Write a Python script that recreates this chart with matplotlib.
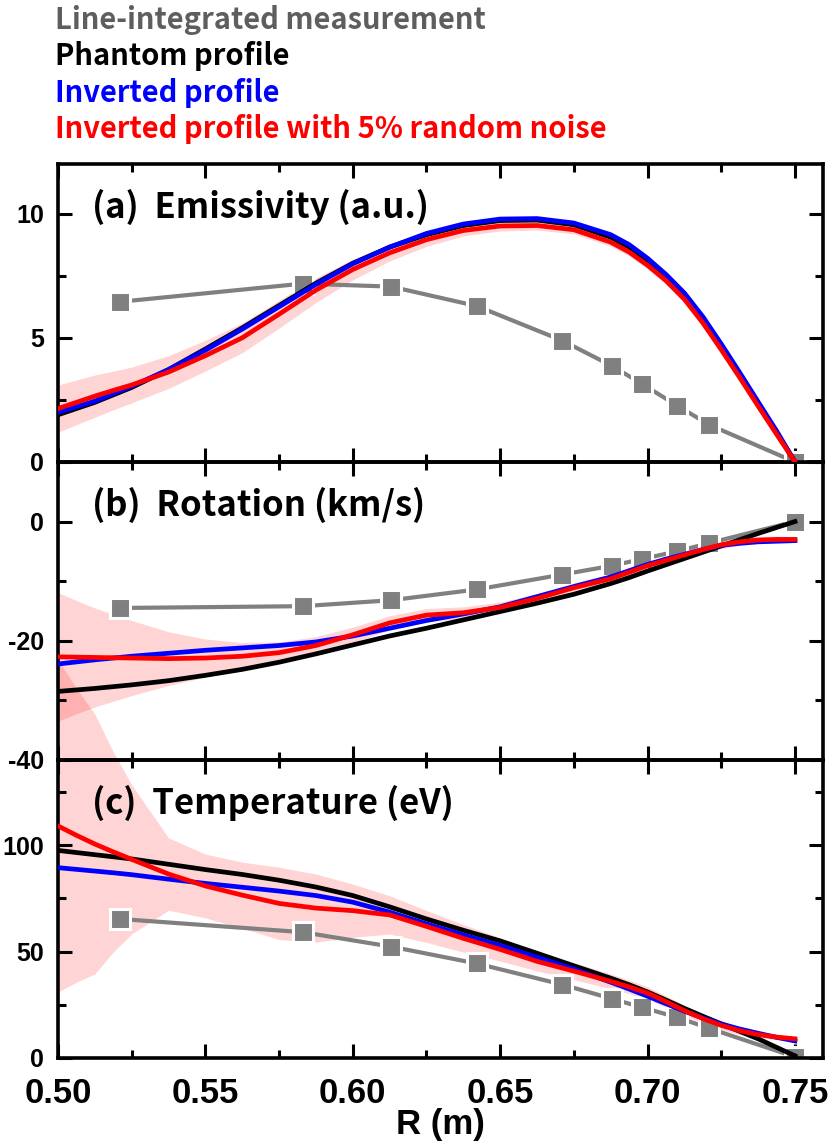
import numpy as np
import matplotlib.pyplot as plt
from matplotlib.ticker import MultipleLocator

plt.rcParams['font.family'] = ['Liberation Sans', 'DejaVu Sans']
plt.rcParams['font.weight'] = 'bold'
plt.rcParams['axes.unicode_minus'] = False

# radial grid of the reconstructed profiles (m)
r = [0.5000, 0.50625, 0.5125, 0.51875, 0.5250, 0.5375, 0.5500, 0.5625, 0.5750, 0.5875,
     0.6000, 0.6125, 0.6250, 0.6375, 0.6500, 0.6625, 0.6750, 0.6875, 0.69375, 0.7000,
     0.70625, 0.7125, 0.71875, 0.7250, 0.73125, 0.7375, 0.74375, 0.7500]
# chord positions of the line-integrated measurement
r_meas = [0.521, 0.583, 0.613, 0.642, 0.671, 0.688, 0.698, 0.710, 0.721, 0.750]

# (a) emissivity
emis_meas = [6.45, 7.18, 7.06, 6.28, 4.89, 3.86, 3.15, 2.27, 1.49, 0.0]
emis_phantom = [1.9, 2.15, 2.4, 2.7, 3.0, 3.72, 4.55, 5.4, 6.3, 7.2,
                8.0, 8.65, 9.15, 9.52, 9.72, 9.74, 9.55, 9.05, 8.65, 8.1,
                7.45, 6.7, 5.75, 4.65, 3.5, 2.35, 1.2, 0.0]
emis_inv = [2.0, 2.22, 2.45, 2.75, 3.05, 3.72, 4.5, 5.35, 6.25, 7.15,
            7.98, 8.65, 9.2, 9.58, 9.78, 9.8, 9.62, 9.15, 8.75, 8.2,
            7.55, 6.8, 5.85, 4.75, 3.6, 2.42, 1.25, 0.0]
emis_noise = [2.15, 2.4, 2.65, 2.88, 3.1, 3.62, 4.28, 5.0, 5.95, 6.92,
              7.75, 8.42, 8.95, 9.32, 9.5, 9.52, 9.35, 8.85, 8.45, 7.92,
              7.3, 6.55, 5.6, 4.52, 3.4, 2.25, 1.12, 0.0]
emis_err = [0.95, 0.9, 0.85, 0.78, 0.72, 0.66, 0.62, 0.6, 0.56, 0.5,
            0.42, 0.33, 0.27, 0.22, 0.2, 0.18, 0.17, 0.16, 0.155, 0.15,
            0.145, 0.14, 0.13, 0.12, 0.11, 0.1, 0.08, 0.05]

# (b) rotation
rot_meas = [-14.5, -14.2, -13.2, -11.4, -8.9, -7.4, -6.3, -5.0, -3.6, 0.0]
rot_phantom = [-28.5, -28.25, -28.0, -27.7, -27.4, -26.7, -25.8, -24.8, -23.6, -22.2,
               -20.7, -19.2, -17.9, -16.5, -15.1, -13.7, -12.2, -10.4, -9.4, -8.3,
               -7.25, -6.2, -5.15, -4.1, -3.05, -2.0, -1.0, 0.0]
rot_inv = [-23.9, -23.55, -23.2, -22.9, -22.6, -22.1, -21.6, -21.2, -20.8, -20.2,
           -19.2, -17.9, -16.6, -15.5, -14.3, -12.6, -10.9, -9.3, -8.25, -7.2,
           -6.3, -5.5, -4.7, -4.0, -3.65, -3.4, -3.3, -3.2]
rot_noise = [-22.7, -22.75, -22.8, -22.85, -22.9, -23.0, -22.9, -22.6, -22.0, -20.8,
             -19.0, -17.0, -15.7, -15.3, -14.4, -12.9, -11.1, -9.6, -8.5, -7.4,
             -6.5, -5.6, -4.7, -3.9, -3.4, -3.1, -3.0, -3.0]
rot_err = [10.8, 9.5, 8.3, 7.3, 6.3, 4.5, 3.2, 2.3, 1.8, 1.5,
           1.3, 1.2, 1.1, 1.0, 0.9, 0.8, 0.8, 0.8, 0.75, 0.7,
           0.7, 0.7, 0.65, 0.6, 0.6, 0.6, 0.55, 0.5]

# (c) temperature
temp_meas = [65.3, 59.1, 52.3, 44.4, 34.5, 27.8, 23.8, 19.1, 13.9, 0.5]
temp_phantom = [97.5, 96.5, 95.5, 94.5, 93.5, 91.0, 88.5, 86.2, 83.5, 80.3,
                76.3, 71.0, 65.3, 60.0, 55.0, 49.2, 43.3, 37.5, 34.4, 31.0,
                27.2, 23.3, 19.6, 16.0, 12.5, 9.0, 5.0, 1.0]
temp_inv = [89.4, 88.6, 87.8, 87.0, 86.1, 84.0, 82.0, 80.2, 78.4, 76.3,
            73.2, 68.5, 63.0, 57.8, 52.8, 47.3, 41.8, 35.6, 32.4, 29.0,
            25.5, 22.0, 18.8, 16.0, 13.6, 11.6, 9.7, 8.0]
temp_noise = [109.0, 104.6, 100.5, 96.8, 93.3, 86.4, 80.8, 76.5, 72.6, 70.4,
              69.2, 67.2, 61.8, 56.2, 51.0, 45.4, 40.8, 36.0, 33.4, 30.5,
              26.5, 22.2, 18.5, 15.3, 12.8, 11.0, 9.8, 9.0]
temp_err = [78, 69, 61, 47, 35, 17, 15, 15.5, 17, 16,
            12.5, 9, 7.5, 6.5, 5.5, 4.5, 4, 3.5, 3.2, 3,
            2.7, 2.5, 2.2, 2, 1.8, 1.5, 1.2, 1]

fig = plt.figure(figsize=(8.36, 11.44), dpi=100)
left, width = 0.0694, 0.915
ax_c = fig.add_axes([left, 0.0752, width, 0.2605])
ax_b = fig.add_axes([left, 0.3357, width, 0.2605])
ax_a = fig.add_axes([left, 0.5962, width, 0.2605])
ax_c.set_zorder(1)
ax_b.set_zorder(2)
ax_a.set_zorder(3)

panels = [
    (ax_a, emis_meas, emis_phantom, emis_inv, emis_noise, emis_err, (0, 12), 5, 2.5, '(a)  Emissivity (a.u.)'),
    (ax_b, rot_meas, rot_phantom, rot_inv, rot_noise, rot_err, (-40, 10), 20, 10, '(b)  Rotation (km/s)'),
    (ax_c, temp_meas, temp_phantom, temp_inv, temp_noise, temp_err, (0, 140), 50, 25, '(c)  Temperature (eV)'),
]

for ax, meas, phantom, inv, noise, err, ylim, major, minor, title in panels:
    ax.set_facecolor('none')
    noise_a = np.array(noise)
    err_a = np.array(err)
    # the temperature band spills over the top of its frame in the original
    ax.fill_between(r, noise_a - err_a, noise_a + err_a, color='red', alpha=0.17,
                    lw=0, zorder=1, clip_on=(ax is not ax_c))
    ax.plot(r_meas, meas, '-', color='#808080', lw=3, zorder=2)
    ax.plot(r_meas, meas, 's', color='#808080', ms=14, mec='white', mew=2.2, zorder=2.5)
    ax.plot(r, phantom, color='black', lw=3.4, zorder=3)
    ax.plot(r, inv, color='#0000ff', lw=3.4, zorder=3.1)
    ax.plot(r, noise, color='#ff0000', lw=3.4, zorder=3.2)

    ax.set_xlim(0.5, 0.7595)
    ax.set_ylim(*ylim)
    ax.xaxis.set_major_locator(MultipleLocator(0.05))
    ax.xaxis.set_minor_locator(MultipleLocator(0.025))
    ax.yaxis.set_major_locator(MultipleLocator(major))
    ax.yaxis.set_minor_locator(MultipleLocator(minor))
    ax.tick_params(which='both', direction='in', top=True, right=True, width=2.2)
    ax.tick_params(which='major', length=10)
    ax.tick_params(which='minor', length=6)
    ax.tick_params(axis='y', labelsize=18, pad=10)
    ax.tick_params(axis='x', labelsize=25, pad=14)
    for s in ax.spines.values():
        s.set_linewidth(2.6)
    ax.text(0.044, 0.855, title, transform=ax.transAxes, fontsize=25, fontweight='bold',
            family=['Noto Sans CJK KR', 'DejaVu Sans'], va='center', ha='left', zorder=5)

ax_a.tick_params(labelbottom=False)
ax_b.tick_params(labelbottom=False)
ax_c.xaxis.set_major_formatter(plt.FormatStrFormatter('%.2f'))
ax_c.set_xlabel('R (m)', fontsize=25, fontweight='bold', labelpad=-2)

legend_items = [
    ('Line-integrated measurement', '#5e5e5e'),
    ('Phantom profile', 'black'),
    ('Inverted profile', '#0000ff'),
    ('Inverted profile with 5% random noise', '#ff0000'),
]
for i, (txt, col) in enumerate(legend_items):
    fig.text(55 / 836, 1 - (20 + 36.3 * i) / 1144, txt, color=col, fontsize=21,
             fontweight='bold', family=['Noto Sans CJK KR', 'DejaVu Sans'],
             va='center', ha='left')

fig.savefig('out.png', dpi=100)
